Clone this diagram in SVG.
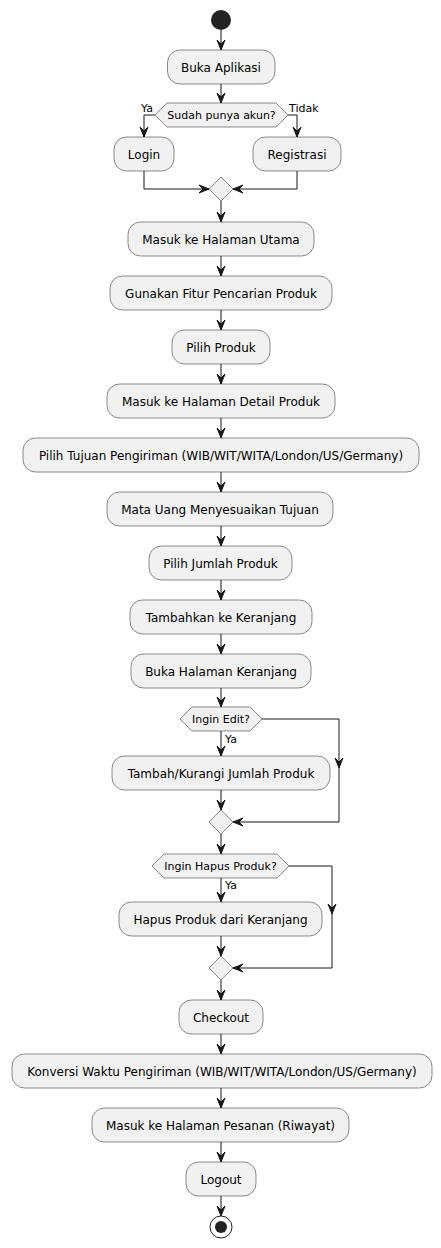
<svg xmlns="http://www.w3.org/2000/svg" width="441" height="1248" viewBox="0 0 441 1248">
<style>
.b{fill:#F1F1F1;stroke:#181818;stroke-width:0.5}
.t{font-family:"DejaVu Sans",sans-serif;font-size:12px;fill:#000;text-anchor:middle}
.d{font-family:"DejaVu Sans",sans-serif;font-size:11px;fill:#000;text-anchor:middle}
.l{font-family:"DejaVu Sans",sans-serif;font-size:11px;fill:#000}
.c{fill:none;stroke:#181818;stroke-width:1}
</style>
<defs>
<marker id="a" markerUnits="userSpaceOnUse" markerWidth="12" markerHeight="10" refX="10" refY="4" orient="auto" overflow="visible">
<path d="M0,0 L10,4 L0,8 L4,4 Z" fill="#181818" stroke="#181818" stroke-width="1"/>
</marker>
</defs>
<rect width="441" height="1248" fill="#FFFFFF"/>
<g id="connectors">
<path class="c" marker-end="url(#a)" d="M221,30 L221,50"/>
<path class="c" marker-end="url(#a)" d="M221,84 L221,103"/>
<path class="c" marker-end="url(#a)" d="M155,115 L144,115 L144,137"/>
<path class="c" marker-end="url(#a)" d="M288,115 L297,115 L297,137"/>
<path class="c" marker-end="url(#a)" d="M144,171 L144,189 L209,189"/>
<path class="c" marker-end="url(#a)" d="M297,171 L297,189 L233,189"/>
<path class="c" marker-end="url(#a)" d="M221,201 L221,222"/>
<path class="c" marker-end="url(#a)" d="M221,256 L221,276"/>
<path class="c" marker-end="url(#a)" d="M221,310 L221,330"/>
<path class="c" marker-end="url(#a)" d="M221,364 L221,384"/>
<path class="c" marker-end="url(#a)" d="M221,418 L221,438"/>
<path class="c" marker-end="url(#a)" d="M221,472 L221,492"/>
<path class="c" marker-end="url(#a)" d="M221,526 L221,546"/>
<path class="c" marker-end="url(#a)" d="M221,580 L221,600"/>
<path class="c" marker-end="url(#a)" d="M221,634 L221,654"/>
<path class="c" marker-end="url(#a)" d="M221,688 L221,707"/>
<path class="c" marker-end="url(#a)" d="M221,731 L221,756"/>
<path class="c" marker-end="url(#a)" d="M221,790 L221,810"/>
<path class="c" marker-end="url(#a)" d="M262,719 L339,719 L339,768"/>
<path class="c" marker-end="url(#a)" d="M339,768 L339,822 L233,822"/>
<path class="c" marker-end="url(#a)" d="M221,834 L221,854"/>
<path class="c" marker-end="url(#a)" d="M221,878 L221,902"/>
<path class="c" marker-end="url(#a)" d="M221,936 L221,956"/>
<path class="c" marker-end="url(#a)" d="M289,866 L332,866 L332,914"/>
<path class="c" marker-end="url(#a)" d="M332,914 L332,968 L233,968"/>
<path class="c" marker-end="url(#a)" d="M221,980 L221,1000"/>
<path class="c" marker-end="url(#a)" d="M221,1034 L221,1054"/>
<path class="c" marker-end="url(#a)" d="M221,1088 L221,1108"/>
<path class="c" marker-end="url(#a)" d="M221,1142 L221,1162"/>
<path class="c" marker-end="url(#a)" d="M221,1196 L221,1216"/>
<text class="l" x="141" y="112">Ya</text>
<text class="l" x="289" y="112">Tidak</text>
<text class="l" x="225" y="743">Ya</text>
<text class="l" x="225" y="889">Ya</text>
</g>
<g id="start"><circle cx="221" cy="20" r="10" fill="#222222"/></g>
<g id="n1"><rect class="b" x="167.5" y="50" width="107.5" height="34" rx="12.5"/><text class="t" x="221" y="71.5">Buka Aplikasi</text></g>
<g id="d1"><polygon class="b" points="155,115 167,103 276,103 288,115 276,127 167,127"/><text class="d" x="221.5" y="119">Sudah punya akun?</text></g>
<g id="n2"><rect class="b" x="114" y="137" width="60" height="34" rx="12.5"/><text class="t" x="144" y="158.5">Login</text></g>
<g id="n3"><rect class="b" x="253" y="137" width="88" height="34" rx="12.5"/><text class="t" x="297" y="158.5">Registrasi</text></g>
<g id="m1"><polygon class="b" points="221,177 233,189 221,201 209,189"/></g>
<g id="n4"><rect class="b" x="128" y="222" width="186" height="34" rx="12.5"/><text class="t" x="221" y="243.5">Masuk ke Halaman Utama</text></g>
<g id="n5"><rect class="b" x="110" y="276" width="222" height="34" rx="12.5"/><text class="t" x="221" y="297.5">Gunakan Fitur Pencarian Produk</text></g>
<g id="n6"><rect class="b" x="172" y="330" width="98" height="34" rx="12.5"/><text class="t" x="221" y="351.5">Pilih Produk</text></g>
<g id="n7"><rect class="b" x="107" y="384" width="228" height="34" rx="12.5"/><text class="t" x="221" y="405.5">Masuk ke Halaman Detail Produk</text></g>
<g id="n8"><rect class="b" x="23" y="438" width="396" height="34" rx="12.5"/><text class="t" x="221" y="459.5">Pilih Tujuan Pengiriman (WIB/WIT/WITA/London/US/Germany)</text></g>
<g id="n9"><rect class="b" x="107" y="492" width="226" height="34" rx="12.5"/><text class="t" x="220" y="513.5">Mata Uang Menyesuaikan Tujuan</text></g>
<g id="n10"><rect class="b" x="149" y="546" width="143" height="34" rx="12.5"/><text class="t" x="220.5" y="567.5">Pilih Jumlah Produk</text></g>
<g id="n11"><rect class="b" x="130" y="600" width="182" height="34" rx="12.5"/><text class="t" x="221" y="621.5">Tambahkan ke Keranjang</text></g>
<g id="n12"><rect class="b" x="131" y="654" width="180" height="34" rx="12.5"/><text class="t" x="221" y="675.5">Buka Halaman Keranjang</text></g>
<g id="d2"><polygon class="b" points="180,719 192,707 250,707 262,719 250,731 192,731"/><text class="d" x="221" y="723">Ingin Edit?</text></g>
<g id="n13"><rect class="b" x="112" y="756" width="218" height="34" rx="12.5"/><text class="t" x="221" y="777.5">Tambah/Kurangi Jumlah Produk</text></g>
<g id="m2"><polygon class="b" points="221,810 233,822 221,834 209,822"/></g>
<g id="d3"><polygon class="b" points="152,866 164,854 277,854 289,866 277,878 164,878"/><text class="d" x="220.5" y="870">Ingin Hapus Produk?</text></g>
<g id="n14"><rect class="b" x="119" y="902" width="203" height="34" rx="12.5"/><text class="t" x="220.5" y="923.5">Hapus Produk dari Keranjang</text></g>
<g id="m3"><polygon class="b" points="221,956 233,968 221,980 209,968"/></g>
<g id="n15"><rect class="b" x="179" y="1000" width="84" height="34" rx="12.5"/><text class="t" x="221" y="1021.5">Checkout</text></g>
<g id="n16"><rect class="b" x="12" y="1054" width="420" height="34" rx="12.5"/><text class="t" x="222" y="1075.5">Konversi Waktu Pengiriman (WIB/WIT/WITA/London/US/Germany)</text></g>
<g id="n17"><rect class="b" x="92" y="1108" width="257" height="34" rx="12.5"/><text class="t" x="220.5" y="1129.5">Masuk ke Halaman Pesanan (Riwayat)</text></g>
<g id="n18"><rect class="b" x="186" y="1162" width="70" height="34" rx="12.5"/><text class="t" x="221" y="1183.5">Logout</text></g>
<g id="end"><circle cx="221" cy="1227" r="11" fill="none" stroke="#222222" stroke-width="1"/><circle cx="221" cy="1227" r="6" fill="#222222"/></g>
</svg>
